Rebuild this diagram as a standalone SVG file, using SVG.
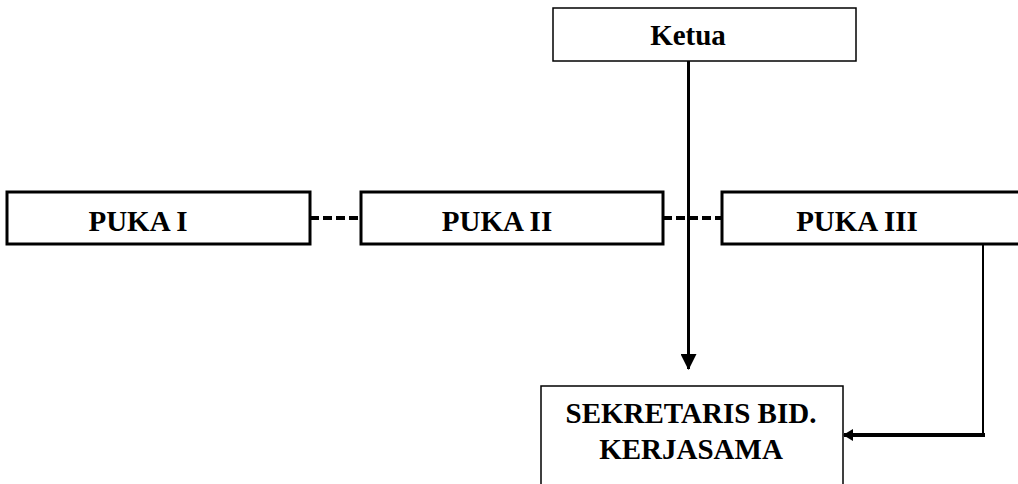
<svg xmlns="http://www.w3.org/2000/svg" width="1018" height="484" viewBox="0 0 1018 484">
<style>
.box{fill:#fff;stroke:#000;stroke-width:3}
.thin{fill:#fff;stroke:#000;stroke-width:1.5}
.t{font-family:"Liberation Serif","Times New Roman",serif;font-weight:bold;font-size:29px;fill:#000;text-anchor:middle}
.dash{stroke:#000;stroke-width:4;stroke-dasharray:9,4;fill:none}
.ln{stroke:#000;fill:none}
</style>
<defs>
<marker id="ah" markerWidth="16" markerHeight="16" viewBox="0 0 16 16" refX="15" refY="8" orient="auto" markerUnits="userSpaceOnUse">
<path d="M0,0 L16,8 L0,16 Z" fill="#000"/>
</marker>
<marker id="ah2" markerWidth="10" markerHeight="12" viewBox="0 0 10 12" refX="9" refY="6" orient="auto" markerUnits="userSpaceOnUse">
<path d="M0,0 L10,6 L0,12 Z" fill="#000"/>
</marker>
</defs>
<g id="connectors">
<line class="dash" x1="310" y1="218" x2="361" y2="218"/>
<line class="dash" x1="663" y1="218" x2="722" y2="218"/>
<line class="ln" stroke-width="3" x1="688.5" y1="61" x2="688.5" y2="369" marker-end="url(#ah)"/>
<polyline class="ln" stroke-width="2" points="983,244 983,435"/>
<line class="ln" stroke-width="4" x1="985" y1="435" x2="844" y2="435" marker-end="url(#ah2)"/>
</g>
<g id="ketua">
<rect class="thin" x="553" y="8" width="303" height="53"/>
<text class="t" x="688" y="45">Ketua</text>
</g>
<g id="puka1">
<rect class="box" x="7" y="192" width="303" height="52"/>
<text class="t" x="138" y="231">PUKA I</text>
</g>
<g id="puka2">
<rect class="box" x="361" y="192" width="302" height="52"/>
<text class="t" x="497" y="231">PUKA II</text>
</g>
<g id="puka3">
<rect class="box" x="722" y="192" width="310" height="52"/>
<text class="t" x="857" y="231">PUKA III</text>
</g>
<g id="sekretaris">
<rect class="thin" x="541" y="386" width="302" height="110"/>
<text class="t" x="691" y="423">SEKRETARIS BID.</text>
<text class="t" x="691" y="459">KERJASAMA</text>
</g>
</svg>
